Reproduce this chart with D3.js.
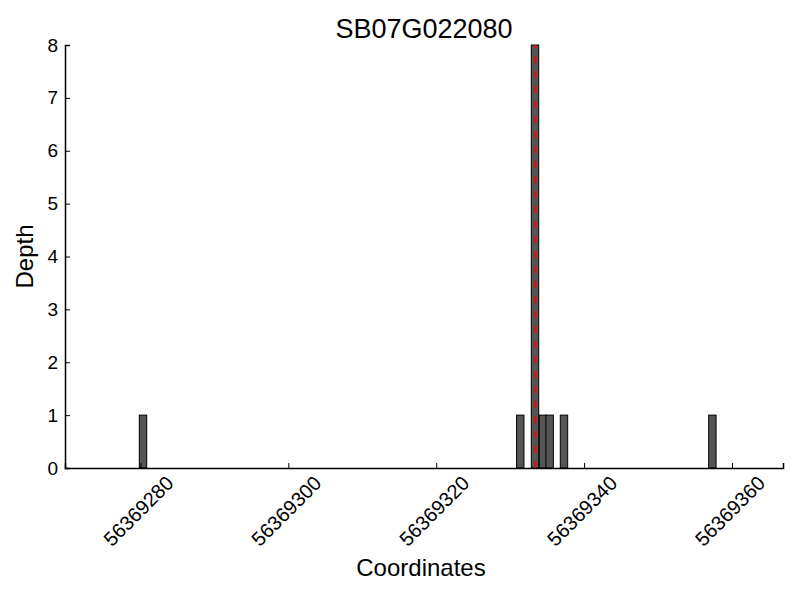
<!DOCTYPE html>
<html>
<head>
<meta charset="utf-8">
<script src="https://cdn.jsdelivr.net/npm/d3@7"></script>
<style>
  body { margin: 0; background: #fff; }
  text { font-family: "Liberation Sans", Arial, sans-serif; fill: #000; }
</style>
</head>
<body>
<svg id="chart" width="800" height="600"></svg>
<script>
// Data
const title = "SB07G022080";
const xLabel = "Coordinates";
const yLabel = "Depth";
const binStarts = [56369279.85, 56369330.87, 56369332.86, 56369333.94, 56369334.84, 56369336.78, 56369356.85];
const binWidth = 1.0;
const depths = [1, 1, 8, 1, 1, 1, 1];
const markerPos = 56369333.4;
const xTicks = [56369280, 56369300, 56369320, 56369340, 56369360];
const yTicks = [0, 1, 2, 3, 4, 5, 6, 7, 8];
const xDomain = [56369269.8, 56369366.9];
const yDomain = [0, 8];

const svg = d3.select("#chart");
const mLeft = 65, mRight = 783, mTop = 45, mBottom = 468;

const x = d3.scaleLinear().domain(xDomain).range([mLeft, mRight]);
const y = d3.scaleLinear().domain(yDomain).range([mBottom, mTop]);

// Bars
svg.append("g").selectAll("rect")
  .data(binStarts.map((s, i) => ({ s, d: depths[i] })))
  .join("rect")
  .attr("x", d => x(d.s))
  .attr("width", d => x(d.s + binWidth) - x(d.s))
  .attr("y", d => y(d.d))
  .attr("height", d => y(0) - y(d.d))
  .attr("fill", "#555555")
  .attr("stroke", "#000")
  .attr("stroke-width", 1);

// Red dashed marker
svg.append("line")
  .attr("x1", x(markerPos)).attr("x2", x(markerPos))
  .attr("y1", y(yDomain[0])).attr("y2", y(yDomain[1]))
  .attr("stroke", "#ff0000")
  .attr("stroke-width", 2)
  .attr("stroke-dasharray", "7,8");

// Axes (inward ticks)
const xAxis = d3.axisBottom(x).tickValues(xTicks).tickSize(-5).tickFormat("");
const gx = svg.append("g").attr("transform", `translate(0,${mBottom})`).call(xAxis);
gx.select(".domain").attr("stroke", "#000").attr("stroke-width", 1.5);
gx.selectAll(".tick line").attr("stroke", "#000");

const yAxis = d3.axisLeft(y).tickValues(yTicks).tickSize(-5).tickFormat("");
const gy = svg.append("g").attr("transform", `translate(${mLeft},0)`).call(yAxis);
gy.select(".domain").attr("stroke", "#000").attr("stroke-width", 1.5);
gy.selectAll(".tick line").attr("stroke", "#000");

// Y tick labels
svg.append("g").selectAll("text")
  .data(yTicks).join("text")
  .attr("x", mLeft - 7)
  .attr("y", d => y(d))
  .attr("text-anchor", "end")
  .attr("dominant-baseline", "central")
  .style("font-size", "19px")
  .text(d => d);

// X tick labels rotated
svg.append("g").selectAll("text")
  .data(xTicks).join("text")
  .attr("transform", d => `translate(${x(d) - 2},511) rotate(-45)`)
  .attr("text-anchor", "middle")
  .attr("dominant-baseline", "central")
  .style("font-size", "20px")
  .text(d => d);

// Title and axis labels
svg.append("text")
  .attr("x", (mLeft + mRight) / 2).attr("y", 38)
  .attr("text-anchor", "middle")
  .style("font-size", "27px")
  .text(title);

svg.append("text")
  .attr("x", (mLeft + mRight) / 2 - 3).attr("y", 576)
  .attr("text-anchor", "middle")
  .style("font-size", "24px")
  .text(xLabel);

svg.append("text")
  .attr("transform", `translate(33,${(mTop + mBottom) / 2}) rotate(-90)`)
  .attr("text-anchor", "middle")
  .style("font-size", "24px")
  .text(yLabel);
</script>
</body>
</html>
